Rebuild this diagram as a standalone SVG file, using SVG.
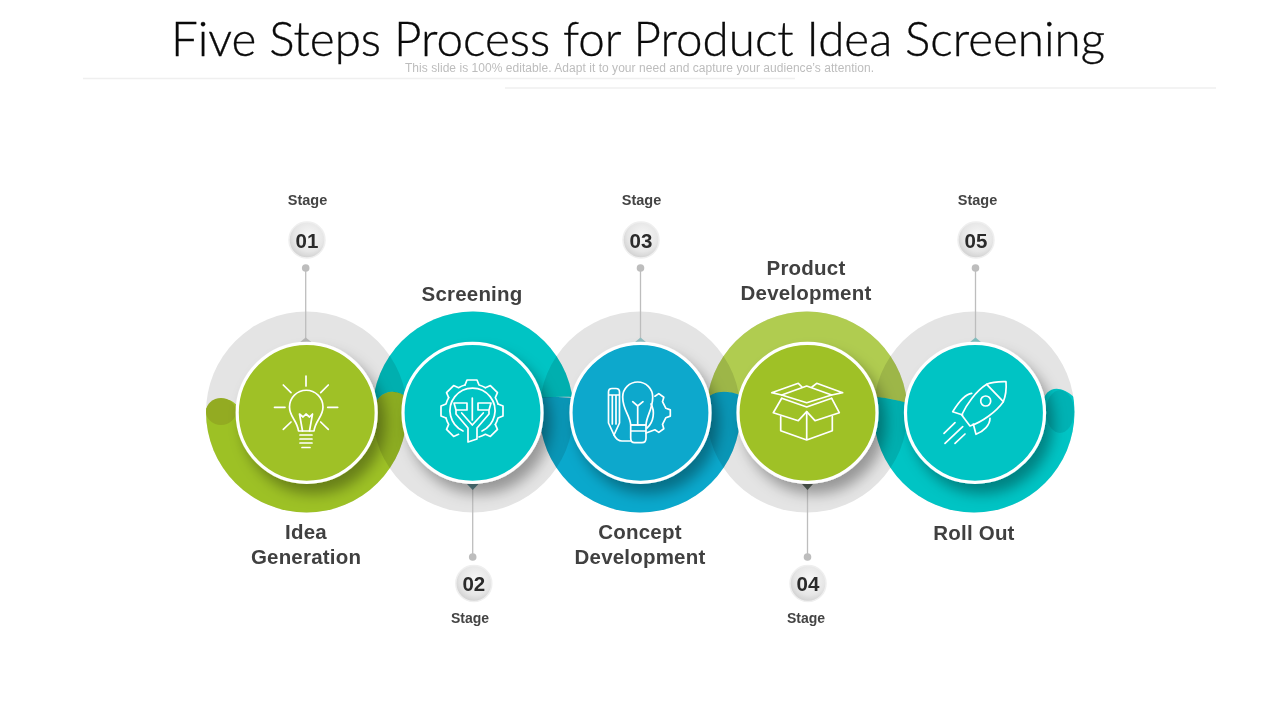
<svg xmlns="http://www.w3.org/2000/svg" width="1280" height="720" viewBox="0 0 1280 720">
<style>
.ring{mix-blend-mode:multiply}
.grey{fill:#e4e4e4}
.disc{stroke:#fff;stroke-width:3.2;filter:url(#sh)}
.ico{fill:none;stroke:#fff;stroke-width:1.7;stroke-linecap:round;stroke-linejoin:round}
.t{font-family:"Liberation Sans",Arial,sans-serif;text-anchor:middle;font-weight:700}
.lab{font-size:20.5px;fill:#404040;letter-spacing:.2px}
.st{font-size:14.5px;fill:#444}
.num{font-size:20.5px;fill:#2b2b2b}
.lead{stroke:#bdbdbd;stroke-width:1.300;fill:none}
.dot{fill:#bdbdbd}
.badge{fill:url(#bg);stroke:#efefef;stroke-width:1.500}
</style>
<defs>
<filter id="sh" x="-30%" y="-30%" width="170%" height="170%"><feDropShadow dx="7" dy="10" stdDeviation="7" flood-color="#000" flood-opacity=".34"/></filter>
<radialGradient id="bg" cx=".55" cy=".4" r=".7"><stop offset="0" stop-color="#f8f8f8"/><stop offset=".6" stop-color="#e6e6e6"/><stop offset="1" stop-color="#c6c6c6"/></radialGradient>
<clipPath id="c1"><circle cx="306.500" cy="412" r="100.500"/></clipPath>
<clipPath id="c2"><circle cx="473" cy="412" r="100.500"/></clipPath>
<clipPath id="c3"><circle cx="640" cy="412" r="100.500"/></clipPath>
<clipPath id="c4"><circle cx="807" cy="412" r="100.500"/></clipPath>
<clipPath id="c5"><circle cx="974" cy="412" r="100.500"/></clipPath>
<path id="tooth" d="M-7-26-5-31H5L7-26A26.900 26.900 0 0 1 13.440-23.330"/>
</defs>
<rect width="1280" height="720" fill="#fff"/>
<path d="M83 78.500H795" stroke="#efefef" stroke-width="1.500"/>
<path d="M505 88H1216" stroke="#efefef" stroke-width="1.500"/>
<text id="title" x="638" y="56" text-anchor="middle" font-family="Lato,'Noto Sans',sans-serif" font-weight="300" font-size="47" fill="#0a0a0a" stroke="#0a0a0a" stroke-width=".35" textLength="934" lengthAdjust="spacingAndGlyphs">Five Steps Process for Product Idea Screening</text>
<text id="subtitle" x="639.500" y="72" text-anchor="middle" font-family="'Liberation Sans',Arial,sans-serif" font-size="12" fill="#bdbdbd" textLength="469">This slide is 100% editable. Adapt it to your need and capture your audience’s attention.</text>

<g id="bands">
<g class="ring"><circle class="grey" cx="306.500" cy="412" r="100.500"/>
<g clip-path="url(#c1)"><path fill="#9dc125" d="M200 425C203 395 235 392 240 412L372 412C376 393 392 385 408 398V520H200Z"/><ellipse cx="221" cy="411.500" rx="15" ry="13.500" fill="#93ab22"/></g></g>
<g class="ring"><circle class="grey" cx="473" cy="412" r="100.500"/>
<g clip-path="url(#c2)"><path fill="#00c4c4" d="M360 300H590V400C575 396 560 396 545 398L408 398C392 385 376 393 372 412H360Z"/></g></g>
<g class="ring"><circle class="grey" cx="640" cy="412" r="100.500"/>
<g clip-path="url(#c3)"><path fill="#0aa8cc" d="M530 400C545 396 560 396 590 400L705 400C712 392 725 388 745 397V520H530Z"/></g></g>
<g class="ring"><circle class="grey" cx="807" cy="412" r="100.500"/>
<g clip-path="url(#c4)"><path fill="#b0cc50" d="M700 300H915V404C900 402 890 397 870 397L745 397C725 388 712 392 705 400H700Z"/></g></g>
<g class="ring"><circle class="grey" cx="974" cy="412" r="100.500"/>
<g clip-path="url(#c5)"><path fill="#00c4c4" d="M870 397C890 397 900 402 915 404L1042 404C1046 385 1062 383 1080 403V520H870Z"/><ellipse cx="1060" cy="411.500" rx="14" ry="21.500" fill="#00b2b4"/></g></g>
</g>

<g id="connectors">
<path class="lead" d="M305.700 268V340"/><path d="M299.500 342.500L305.700 337.500 312 342.500Z" fill="#b5b5b5"/><circle class="dot" cx="305.700" cy="268" r="3.800"/>
<path class="lead" d="M472.700 484V556"/><path d="M467 484L472.700 490 478.500 484Z" fill="#5d8a90"/><circle class="dot" cx="472.700" cy="557" r="3.800"/>
<path class="lead" d="M640.500 268V340"/><path d="M634.500 342.500L640.500 337.500 646.500 342.500Z" fill="#8fbdc0"/><circle class="dot" cx="640.500" cy="268" r="3.800"/>
<path class="lead" d="M807.500 484V556"/><path d="M802 484L807.500 490 813 484Z" fill="#5f6a60"/><circle class="dot" cx="807.500" cy="557" r="3.800"/>
<path class="lead" d="M975.500 268V340"/><path d="M969.500 342.500L975.500 337.500 981.500 342.500Z" fill="#7fbcbc"/><circle class="dot" cx="975.500" cy="268" r="3.800"/>
</g>

<g id="node1">
<circle class="disc" cx="306.700" cy="412.800" r="69.500" fill="#9fc125"/>
<g class="ico"><path d="M306 376V386M274.500 407.300H285M327.700 407.300H337.700M283.300 385L291 392.700M328.300 385L320.700 392.700M283.300 429.300L291 422M328.300 429.300L320.700 422"/>
<path d="M298.500 431C297 420 289.500 417 289.500 407A16.700 16.700 0 1 1 323 407C323 417 315.500 420 314 431Z"/>
<path d="M302.500 431L299.500 414 303 417 306 414 309.500 417 312.500 414 309.500 431"/>
<path d="M300 435H312M300 439H312M300 443H312M302 447.500H310"/></g>
<text class="t lab" x="306" y="539">Idea</text><text class="t lab" x="306" y="564">Generation</text>
<circle class="badge" cx="307" cy="240" r="18"/><text class="t num" x="307" y="247.500">01</text>
<text class="t st" x="307.500" y="205">Stage</text>
</g>

<g id="node2">
<circle class="disc" cx="472.500" cy="412.800" r="69.500" fill="#00c4c4"/>
<g class="ico"><g transform="translate(472 411)"><use href="#tooth"/><use href="#tooth" transform="rotate(45)"/><use href="#tooth" transform="rotate(90)"/><use href="#tooth" transform="rotate(135)"/><use href="#tooth" transform="rotate(225)"/><use href="#tooth" transform="rotate(270)"/><use href="#tooth" transform="rotate(315)"/></g>
<path d="M463 431A22.500 22.500 0 1 1 482 431"/>
<path d="M454 403H467V410H456ZM491 403H478V410H489ZM456 410V414L468 428V442L477 439V428L489 414V410"/>
<path d="M472.300 398V420M461.700 413L472.300 425 483.300 413"/></g>
<text class="t lab" x="472" y="301">Screening</text>
<circle class="badge" cx="473.800" cy="583.500" r="18"/><text class="t num" x="473.800" y="591">02</text>
<text class="t st" x="470" y="623" style="font-size:14px">Stage</text>
</g>

<g id="node3">
<circle class="disc" cx="640.500" cy="412.800" r="69.500" fill="#0aa8cc"/>
<g class="ico"><path d="M608.500 392Q608.500 388.500 612 388.500H616Q619.500 388.500 619.500 392V423L614 435 608.500 423ZM608.500 395H619.500M612.300 395V424M616 395V424"/>
<path d="M614 435C616 439 618 441 622 441H631"/>
<path d="M630.700 425C630 415 622.700 410 622.700 397A15 15 0 1 1 652.700 397C652.700 410 646.500 415 646 425Z"/>
<path d="M632.700 401.700L637.700 406 643 401.700M637.700 406V425"/>
<path d="M630.700 425H646V438Q646 442.700 642 442.700H634.500Q630.700 442.700 630.700 438ZM630.700 431H646"/>
<path d="M654.900 396.200L658.800 393.600 663.800 397.200 662.500 401.700 665.900 408.300 670.300 409.900V416.100L665.900 417.700 662.500 424.300 663.800 428.800 658.800 432.400 654.900 429.800 646 433"/>
<path d="M651 404C655 411 654 422 647 428"/></g>
<text class="t lab" x="640" y="539">Concept</text><text class="t lab" x="640" y="564">Development</text>
<circle class="badge" cx="641" cy="240" r="18"/><text class="t num" x="641" y="247.500">03</text>
<text class="t st" x="641.500" y="205">Stage</text>
</g>

<g id="node4">
<circle class="disc" cx="807.500" cy="412.800" r="69.500" fill="#9fc125"/>
<g class="ico"><path d="M780.700 416.700V430.700L806.700 440 832.300 430.700V416.700M806.700 411.700V440"/>
<path d="M781.700 395L806.700 386 831.700 395 806.700 402.700Z"/>
<path d="M781.700 395L771.700 392.700 798.300 383.300 802 387M831.700 395L842.700 392.700 816.700 383.300 812 387"/>
<path d="M781.700 398.300L773.300 412.700 798.300 420.700 806.700 411.700 815 420.700 839.300 412.700 831.700 398.300"/>
<path d="M781.700 398.300L806.700 407 831.700 398.300"/></g>
<text class="t lab" x="806" y="275">Product</text><text class="t lab" x="806" y="300">Development</text>
<circle class="badge" cx="808" cy="583.500" r="18"/><text class="t num" x="808" y="591">04</text>
<text class="t st" x="806" y="623" style="font-size:14px">Stage</text>
</g>

<g id="node5">
<circle class="disc" cx="975" cy="412.800" r="69.500" fill="#00c4c4"/>
<g class="ico"><path d="M1006 381.700C998 381.500 992 382 986.700 384.300C976 391 966 405 961.700 415L970 426C982 422 996 412 1003.300 401.700C1006 395 1006.500 388 1006 381.700Z"/>
<path d="M986.700 384.300L1003.300 401.700"/><circle cx="985.700" cy="401" r="5"/>
<path d="M971.700 393.300C965 394 958 403 952.700 411.700L962.700 415"/>
<path d="M990 418.300C990 425 984 431 976 434.300L973.300 424"/>
<path d="M944 433.300L955 422.700M945 443.300L962.700 426.700M955 443.300L965 434"/></g>
<text class="t lab" x="974" y="540">Roll Out</text>
<circle class="badge" cx="976" cy="240" r="18"/><text class="t num" x="976" y="247.500">05</text>
<text class="t st" x="977.500" y="205">Stage</text>
</g>
</svg>
